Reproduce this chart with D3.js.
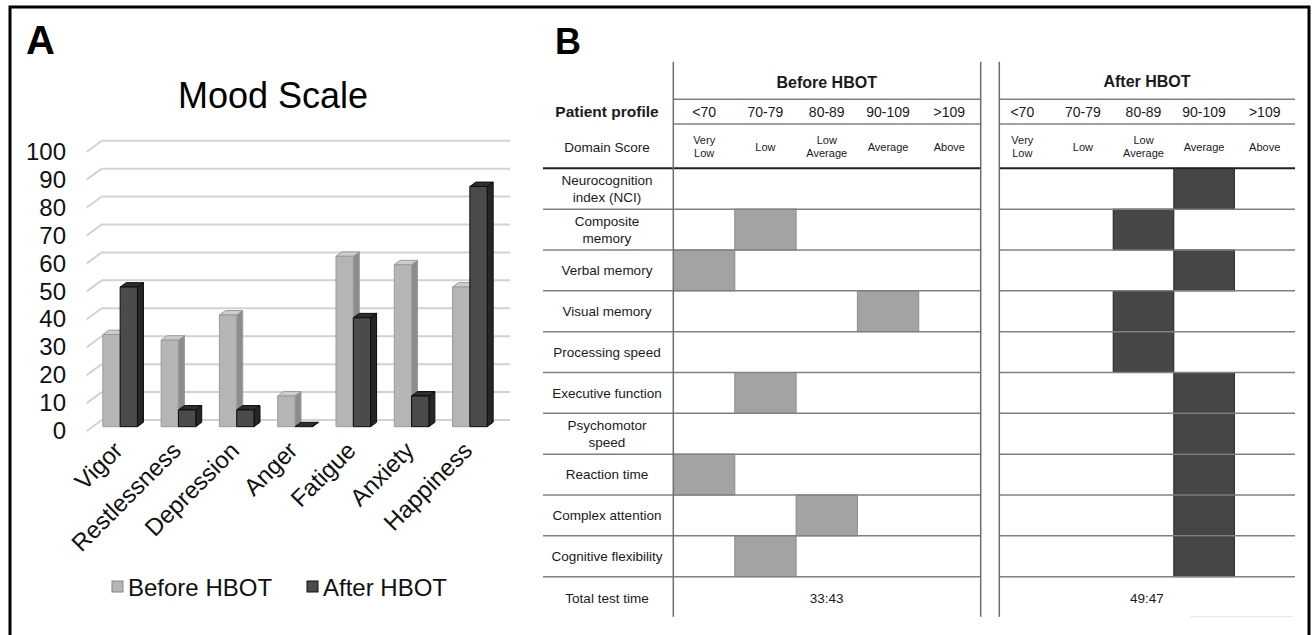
<!DOCTYPE html>
<html>
<head>
<meta charset="utf-8">
<script src="https://cdn.jsdelivr.net/npm/d3@7"></script>
<style>
  body { margin: 0; background: #fff; }
  svg { display: block; font-family: "Liberation Sans", Arial, sans-serif; }
</style>
</head>
<body>
<svg width="1313" height="635"></svg>
<script>
// panel A data
const moodCategories = ["Vigor", "Restlessness", "Depression", "Anger", "Fatigue", "Anxiety", "Happiness"];
const beforeValues = [33, 31, 40, 11, 61, 58, 50];
const afterValues = [50, 6, 6, 0, 39, 11, 86];
const yTicks = [0, 10, 20, 30, 40, 50, 60, 70, 80, 90, 100];
const seriesNames = ["Before HBOT", "After HBOT"];

// panel B data
const scoreRanges = ["<70", "70-79", "80-89", "90-109", ">109"];
const domainScores = ["Very\nLow", "Low", "Low\nAverage", "Average", "Above"];
const domains = [
  "Neurocognition\nindex (NCI)", "Composite\nmemory", "Verbal memory", "Visual memory",
  "Processing speed", "Executive function", "Psychomotor\nspeed", "Reaction time",
  "Complex attention", "Cognitive flexibility"
];
const beforeLevel = [null, 1, 0, 3, null, 1, null, 0, 2, 1];
const afterLevel = [3, 2, 3, 2, 2, 3, 3, 3, 3, 3];
const totalTimes = ["33:43", "49:47"];

const svg = d3.select("svg");

// outer frame
svg.append("rect")
  .attr("x", 10).attr("y", 7).attr("width", 1299).attr("height", 640)
  .attr("fill", "none").attr("stroke", "#000").attr("stroke-width", 3);

svg.append("text").attr("x", 26).attr("y", 54)
  .attr("font-size", 40).attr("font-weight", "bold").text("A");
svg.append("text").attr("x", 555).attr("y", 54)
  .attr("font-size", 36).attr("font-weight", "bold").text("B");

// ---------- Panel A: 3D-like column chart ----------
const depthX = 15, depthY = 11;      // floor depth of back wall
const barDX = 6, barDY = 4.4;        // bar depth
const yBack = d3.scaleLinear().domain([0, 100]).range([420, 140.7]);
const yFront = d3.scaleLinear().domain([0, 100]).range([420 + depthY, 140.7 + depthY]);
const yBar = d3.scaleLinear().domain([0, 100]).range([426.7, 147.4]);
const xCat = d3.scaleBand().domain(moodCategories).range([91, 499]);
const barW = 17.3;

svg.append("text")
  .attr("x", 273).attr("y", 108).attr("text-anchor", "middle")
  .attr("font-size", 36).text("Mood Scale");

const grid = svg.append("g");
yTicks.forEach((t) => {
  grid.append("line")
    .attr("x1", 86.7).attr("y1", yBack(t) + depthY)
    .attr("x2", 86.7 + depthX).attr("y2", yBack(t))
    .attr("stroke", "#d2d2d2").attr("stroke-width", 2);
  grid.append("line")
    .attr("x1", 86.7 + depthX).attr("y1", yBack(t))
    .attr("x2", 510).attr("y2", yBack(t))
    .attr("stroke", "#d2d2d2").attr("stroke-width", 2);
});

const yAxis = d3.axisLeft(yFront).tickValues(yTicks).tickSize(0).tickPadding(0);
const yAxisG = svg.append("g").attr("transform", "translate(66,0)").call(yAxis);
yAxisG.select(".domain").remove();
yAxisG.selectAll("text")
  .attr("font-size", 24).attr("fill", "#111")
  .attr("font-family", "'Liberation Sans', Arial, sans-serif");

const styles = [
  { front: "#b5b5b5", side: "#8c8c8c", top: "#cdcdcd", stroke: "#9a9a9a" },
  { front: "#4b4b4b", side: "#262626", top: "#2e2e2e", stroke: "#0d0d0d" }
];

const drawBar = (x, v, st) => {
  const y0 = yBar(0), y1 = yBar(v);
  const g = svg.append("g").attr("stroke", st.stroke).attr("stroke-width", 1).attr("stroke-linejoin", "round");
  g.append("path")
    .attr("d", `M${x + barW},${y1} L${x + barW + barDX},${y1 - barDY} L${x + barW + barDX},${y0 - barDY} L${x + barW},${y0} Z`)
    .attr("fill", st.side);
  g.append("path")
    .attr("d", `M${x},${y1} L${x + barDX},${y1 - barDY} L${x + barW + barDX},${y1 - barDY} L${x + barW},${y1} Z`)
    .attr("fill", st.top);
  g.append("rect")
    .attr("x", x).attr("y", y1).attr("width", barW).attr("height", y0 - y1)
    .attr("fill", st.front);
};

moodCategories.forEach((c, i) => {
  const x0 = xCat(c) + (xCat.bandwidth() - 2 * barW) / 2;
  drawBar(x0, beforeValues[i], styles[0]);
  drawBar(x0 + barW, afterValues[i], styles[1]);
});

svg.append("g").selectAll("text")
  .data(moodCategories)
  .enter()
  .append("text")
  .attr("transform", (d) => `translate(${xCat(d) + xCat.bandwidth() / 2 + 4},${452}) rotate(-45)`)
  .attr("text-anchor", "end")
  .attr("font-size", 24).attr("fill", "#111")
  .text((d) => d);

// legend
const legendX = [112, 307];
seriesNames.forEach((s, i) => {
  svg.append("rect")
    .attr("x", legendX[i]).attr("y", 581).attr("width", 11).attr("height", 11)
    .attr("fill", styles[i].front).attr("stroke", i ? "#111" : "#888").attr("stroke-width", 1);
  svg.append("text")
    .attr("x", legendX[i] + 16).attr("y", 595.5)
    .attr("font-size", 24).attr("fill", "#111").text(s);
});

// ---------- Panel B: cognitive profile table ----------
const tb = svg.append("g");
const rowY = d3.scaleBand().domain(domains).range([168.3, 576.7]);
const colBefore = d3.scaleBand().domain(scoreRanges).range([673.5, 980]);
const colAfter = d3.scaleBand().domain(scoreRanges).range([992, 1295]);
const labelX = 607;
const lineColor = "#808080";

const multiline = (sel, x, yc, str, size, weight, lh) => {
  const parts = str.split("\n");
  const t = sel.append("text")
    .attr("x", x).attr("text-anchor", "middle")
    .attr("font-size", size).attr("fill", "#1a1a1a")
    .attr("font-weight", weight || "normal");
  parts.forEach((p, k) => {
    t.append("tspan")
      .attr("x", x)
      .attr("y", yc + (k - (parts.length - 1) / 2) * lh + size * 0.35)
      .text(p);
  });
};

// filled cells
domains.forEach((d, i) => {
  if (beforeLevel[i] !== null) {
    tb.append("rect")
      .attr("x", colBefore(scoreRanges[beforeLevel[i]])).attr("y", rowY(d))
      .attr("width", colBefore.bandwidth()).attr("height", rowY.bandwidth())
      .attr("fill", "#a3a3a3").attr("stroke", "#8a8a8a").attr("stroke-width", 1);
  }
  tb.append("rect")
    .attr("x", colAfter(scoreRanges[afterLevel[i]])).attr("y", rowY(d))
    .attr("width", colAfter.bandwidth()).attr("height", rowY.bandwidth())
    .attr("fill", "#464646").attr("stroke", "#222").attr("stroke-width", 1);
});

// horizontal lines
const sections = [[673.5, 980], [999.3, 1295]];
sections.forEach(([a, b]) => {
  [99.3, 124].forEach((y) => {
    tb.append("line").attr("x1", a).attr("x2", b).attr("y1", y).attr("y2", y)
      .attr("stroke", lineColor).attr("stroke-width", 1.5);
  });
});
tb.append("line").attr("x1", 543).attr("x2", 980).attr("y1", 168.3).attr("y2", 168.3)
  .attr("stroke", "#222").attr("stroke-width", 2);
tb.append("line").attr("x1", 999.3).attr("x2", 1295).attr("y1", 168.3).attr("y2", 168.3)
  .attr("stroke", "#222").attr("stroke-width", 2);
domains.forEach((d, i) => {
  if (i === 0) return;
  const y = rowY(d);
  tb.append("line").attr("x1", 543).attr("x2", 980).attr("y1", y).attr("y2", y)
    .attr("stroke", lineColor).attr("stroke-width", 1.5);
  tb.append("line").attr("x1", 999.3).attr("x2", 1295).attr("y1", y).attr("y2", y)
    .attr("stroke", lineColor).attr("stroke-width", 1.5);
});
const lastY = rowY(domains[domains.length - 1]) + rowY.bandwidth();
tb.append("line").attr("x1", 543).attr("x2", 980).attr("y1", lastY).attr("y2", lastY)
  .attr("stroke", lineColor).attr("stroke-width", 1.5);
tb.append("line").attr("x1", 999.3).attr("x2", 1295).attr("y1", lastY).attr("y2", lastY)
  .attr("stroke", lineColor).attr("stroke-width", 1.5);
tb.append("line").attr("x1", 1190).attr("x2", 1293).attr("y1", 616.7).attr("y2", 616.7)
  .attr("stroke", "#e6e6e6").attr("stroke-width", 1);

// vertical lines
[673.3, 980.7, 999.3].forEach((x) => {
  tb.append("line").attr("x1", x).attr("x2", x).attr("y1", 61.7).attr("y2", 616.7)
    .attr("stroke", "#6e6e6e").attr("stroke-width", 1.5);
});

// header texts
tb.append("text").attr("x", 826.7).attr("y", 87.8).attr("text-anchor", "middle")
  .attr("font-size", 16).attr("font-weight", "bold").attr("fill", "#1a1a1a").text("Before HBOT");
tb.append("text").attr("x", 1147).attr("y", 87.2).attr("text-anchor", "middle")
  .attr("font-size", 16).attr("font-weight", "bold").attr("fill", "#1a1a1a").text("After HBOT");
tb.append("text").attr("x", labelX).attr("y", 117).attr("text-anchor", "middle")
  .attr("font-size", 15.5).attr("font-weight", "bold").attr("fill", "#1a1a1a").text("Patient profile");
multiline(tb, labelX, 147.3, "Domain Score", 13.5, "normal", 14);

[colBefore, colAfter].forEach((col) => {
  scoreRanges.forEach((r) => {
    tb.append("text").attr("x", col(r) + col.bandwidth() / 2).attr("y", 117)
      .attr("text-anchor", "middle").attr("font-size", 14).attr("fill", "#1a1a1a").text(r);
  });
  domainScores.forEach((s, k) => {
    multiline(tb, col(scoreRanges[k]) + col.bandwidth() / 2, 147, s, 11, "normal", 13);
  });
});

domains.forEach((d) => {
  multiline(tb, labelX, rowY(d) + rowY.bandwidth() / 2, d, 13.5, "normal", 16.5);
});
multiline(tb, labelX, 598.3, "Total test time", 13.5, "normal", 16);
multiline(tb, 826.7, 598.3, totalTimes[0], 13.5, "normal", 16);
multiline(tb, 1147, 598.3, totalTimes[1], 13.5, "normal", 16);
</script>
</body>
</html>
